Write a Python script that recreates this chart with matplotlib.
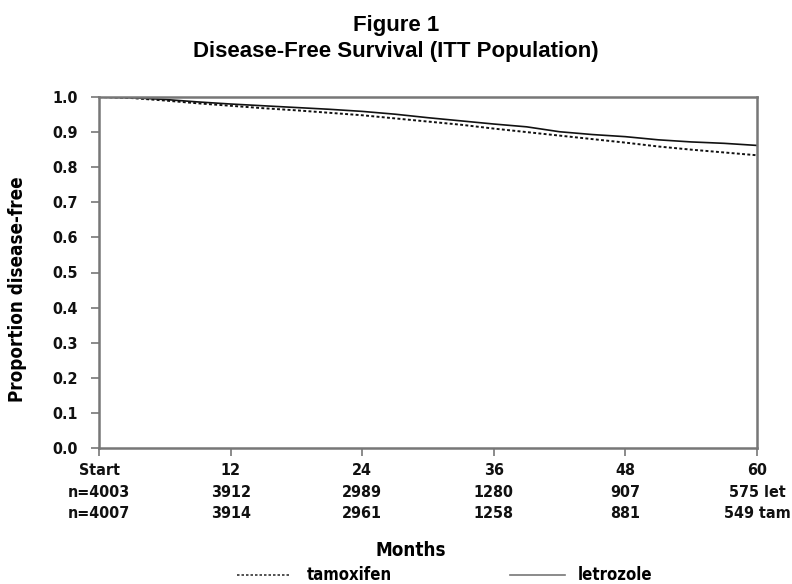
import matplotlib
matplotlib.use("Agg")
import matplotlib.pyplot as plt
from matplotlib.lines import Line2D
from matplotlib import font_manager
from matplotlib.font_manager import FontProperties

# pick a condensed bold face if one is installed
cond_file = None
for f in font_manager.fontManager.ttflist:
    fn = f.fname.lower()
    if ('narrow' in fn or 'condensed' in fn) and 'bold' in fn and 'oblique' not in fn and 'italic' not in fn:
        if cond_file is None or 'liberation' in fn:
            cond_file = f.fname

def cfp(size):
    if cond_file:
        return FontProperties(fname=cond_file, size=size)
    return FontProperties(family='Liberation Sans', weight='bold', size=size, stretch='condensed')

months = [0, 3, 6, 9, 12, 15, 18, 21, 24, 27, 30, 33, 36, 39, 42, 45, 48, 51, 54, 57, 60]
letrozole = [1.0, 0.998, 0.993, 0.986, 0.980, 0.975, 0.970, 0.965, 0.959, 0.951, 0.941,
             0.932, 0.923, 0.915, 0.901, 0.893, 0.887, 0.878, 0.872, 0.868, 0.862]
tamoxifen = [1.0, 0.997, 0.990, 0.982, 0.975, 0.968, 0.962, 0.955, 0.948, 0.939, 0.930,
             0.921, 0.910, 0.900, 0.890, 0.880, 0.870, 0.859, 0.850, 0.842, 0.834]

tick_months = [0, 12, 24, 36, 48, 60]
tick_names = ["Start", "12", "24", "36", "48", "60"]
n_letrozole = ["n=4003", "3912", "2989", "1280", "907", "575 let"]
n_tamoxifen = ["n=4007", "3914", "2961", "1258", "881", "549 tam"]
y_ticks = [0.0, 0.1, 0.2, 0.3, 0.4, 0.5, 0.6, 0.7, 0.8, 0.9, 1.0]

fig = plt.figure(figsize=(7.92, 5.84), dpi=100)
ax = fig.add_axes([99/792, 1 - 448/584, (757 - 99)/792, (448 - 97)/584])

ax.plot(months, letrozole, color='#111111', lw=1.2, ls='-')
ax.plot(months, tamoxifen, color='#111111', lw=1.4, ls=(0, (1.5, 1.2)))

ax.set_xlim(0, 60)
ax.set_ylim(0, 1.0)
ax.set_xticks(tick_months)
ax.set_xticklabels([f"{a}\n{b}\n{c}" for a, b, c in zip(tick_names, n_letrozole, n_tamoxifen)],
                   fontproperties=cfp(11.5), linespacing=1.55)
ax.set_yticks(y_ticks)
ax.set_yticklabels([f"{v:.1f}" for v in y_ticks], fontproperties=cfp(11.5))
for s in ax.spines.values():
    s.set_color('#777777')
    s.set_linewidth(1.8)
ax.tick_params(axis='both', color='#777777', length=6, width=1.2, labelcolor='#111111')
ax.tick_params(axis='x', pad=5)
ax.tick_params(axis='y', pad=9)

fig.text(18/792, 1 - 289/584, "Proportion disease-free", rotation=90, ha='center', va='center',
         fontproperties=cfp(13.5))
fig.text(411/792, 1 - 550/584, "Months", ha='center', va='center', fontproperties=cfp(13.5))

fig.text(0.5, 1 - 25/584, "Figure 1", ha='center', va='center',
         fontfamily='Liberation Sans', fontweight='bold', fontsize=16)
fig.text(0.5, 1 - 52/584, "Disease-Free Survival (ITT Population)", ha='center', va='center',
         fontfamily='Liberation Sans', fontweight='bold', fontsize=16)

ly = 1 - 575/584
fig.add_artist(Line2D([237/792, 290/792], [ly, ly], color='#333333', lw=1.2, ls=(0, (1.5, 1.2))))
fig.text(307/792, ly, "tamoxifen", ha='left', va='center', fontproperties=cfp(12))
fig.add_artist(Line2D([510/792, 565/792], [ly, ly], color='#777777', lw=1.2, ls='-'))
fig.text(578/792, ly, "letrozole", ha='left', va='center', fontproperties=cfp(12))

fig.savefig("out.png", dpi=100)
